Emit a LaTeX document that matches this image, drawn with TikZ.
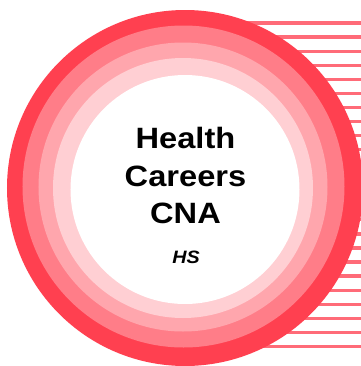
\documentclass[tikz,border=0pt]{standalone}
\usepackage{fontspec}
\setmainfont{Liberation Sans}
\definecolor{ringA}{HTML}{FF4050}
\definecolor{ringB}{HTML}{FF7D88}
\definecolor{ringC}{HTML}{FFA6AD}
\definecolor{ringD}{HTML}{FFCFD3}
\definecolor{stripeC}{HTML}{FF6B78}
\tikzset{
  stripeline/.style={stripeC,line width=3.2bp},
  ringdisc/.style={circle,inner sep=0pt,minimum size=#1*2bp},
  titletext/.style={font=\fontsize{29.5}{35}\selectfont\bfseries,text=black,align=center,inner sep=0pt,anchor=base,xscale=1.11},
  subtext/.style={font=\fontsize{18}{22}\selectfont\bfseries\itshape,text=black,inner sep=0pt,anchor=base,xscale=1.1}
}
\begin{document}
\begin{tikzpicture}[x=1bp,y=-1bp]
\useasboundingbox[fill=white] (0,0) rectangle (361,366);
\foreach \n in {0,...,23}{
  \coordinate (sl\n) at (200,23+14.06*\n);
  \coordinate (sr\n) at (361,23+14.06*\n);
  \draw[stripeline] (sl\n) -- (sr\n);
}
\node[ringdisc=178,fill=ringA] (r1) at (185,188) {};
\node[ringdisc=161,fill=ringB] (r2) at (183.5,186.5) {};
\node[ringdisc=144.5,fill=ringC] (r3) at (183,187) {};
\node[ringdisc=130,fill=ringD] (r4) at (183,188) {};
\node[ringdisc=114.5,fill=white] (r5) at (185,189.5) {};
\node[titletext] (t1) at (185.5,148) {Health};
\node[titletext] (t2) at (185.5,186) {Careers};
\node[titletext] (t3) at (185.5,223) {CNA};
\node[subtext] (t4) at (186,263) {HS};
\end{tikzpicture}
\end{document}
